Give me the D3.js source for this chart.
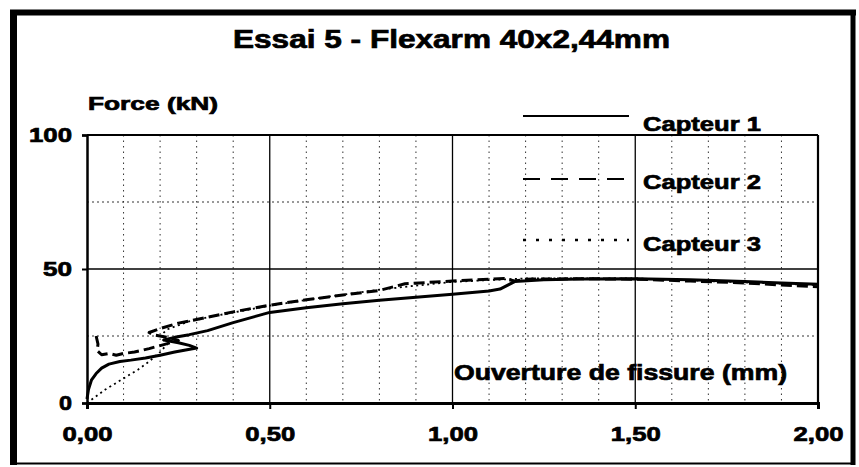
<!DOCTYPE html>
<html><head><meta charset="utf-8">
<script src="https://cdn.jsdelivr.net/npm/d3@7"></script>
<style>
body{margin:0;background:#fff}
svg{display:block}
text{font-family:"Liberation Sans",Arial,sans-serif;font-weight:bold;fill:#000;stroke:#000;stroke-width:0.7px}
</style>
</head><body>
<svg id="c" width="859" height="467"></svg>
<script>
const chartTitle = "Essai 5 - Flexarm 40x2,44mm";
const yTitle = "Force (kN)";
const xTitle = "Ouverture de fissure (mm)";
const seriesNames = ["Capteur 1", "Capteur 2", "Capteur 3"];
const xTicks = [0, 0.5, 1, 1.5, 2];
const xTickLabels = ["0,00", "0,50", "1,00", "1,50", "2,00"];
const yTicks = [0, 50, 100];
const yTickLabels = ["0", "50", "100"];
const xMinorGrid = [0.1,0.2,0.3,0.4,0.6,0.7,0.8,0.9,1.1,1.2,1.3,1.4,1.6,1.7,1.8,1.9];
const yMinorGrid = [25, 75];

const capteur1 = [[0,1.5],[0.004,5],[0.012,8.5],[0.025,11],[0.04,13],[0.06,14.5],[0.09,15.5],[0.12,16],[0.16,16.8],[0.2,17.8],[0.24,19],[0.27,19.8],[0.3,20.5],[0.28,21.5],[0.25,22.5],[0.21,23.5],[0.24,24.5],[0.28,25.5],[0.33,27],[0.4,30],[0.5,33.8],[0.6,35.5],[0.7,37],[0.8,38.3],[0.9,39.5],[1.0,40.6],[1.1,41.8],[1.13,42.5],[1.17,45.3],[1.25,46],[1.35,46.3],[1.5,46.4],[1.65,46],[1.8,45.3],[1.9,44.8],[2.0,44.3]];
const capteur2 = [[0.025,25],[0.03,22],[0.028,19.5],[0.04,18],[0.06,18.5],[0.08,17.8],[0.1,18.5],[0.13,19],[0.17,20.3],[0.21,21.8],[0.25,23.3],[0.22,24.5],[0.18,25.5],[0.17,26.3],[0.2,27.8],[0.25,29.8],[0.33,32],[0.4,34],[0.5,36.5],[0.6,38.5],[0.7,40.3],[0.8,42],[0.87,44.5],[1.0,45.5],[1.14,46.5],[1.17,45.5],[1.2,46.2],[1.35,46.4],[1.5,46.2],[1.65,45.5],[1.8,44.8],[1.9,44],[2.0,43.4]];
const capteur3 = [[0,0],[0.02,2],[0.05,5],[0.08,7.5],[0.11,10],[0.14,12.5],[0.17,15.5],[0.2,19],[0.22,22],[0.2,25],[0.22,27.5],[0.28,30.5],[0.35,32.5],[0.5,36.3],[0.65,39.5],[0.8,42.3],[0.88,43.5],[1.0,45.2],[1.2,46.5],[1.5,46.5],[1.8,45],[2.0,44]];

const series = [capteur1, capteur2, capteur3];
const styles = [
  {w: 3, dash: null},
  {w: 3, dash: "11,5"},
  {w: 1.8, dash: "2,3.5"}
];

const svg = d3.select("#c");
const x = d3.scaleLinear().domain([0, 2]).range([87, 818]);
const y = d3.scaleLinear().domain([0, 100]).range([403, 135]);

function stretch(sel, len) {
  sel.attr("textLength", len).attr("lengthAdjust", "spacingAndGlyphs");
}

// outer frame
svg.append("rect").attr("x", 13.5).attr("y", 12.5).attr("width", 839).attr("height", 451)
  .attr("fill", "none").attr("stroke", "#000").attr("stroke-width", 2);
svg.append("line").attr("x1", 13.5).attr("x2", 13.5).attr("y1", 10).attr("y2", 465).attr("stroke", "#000").attr("stroke-width", 7);
svg.append("line").attr("x1", 10).attr("x2", 856).attr("y1", 12.5).attr("y2", 12.5).attr("stroke", "#000").attr("stroke-width", 6);
svg.append("line").attr("x1", 853).attr("x2", 853).attr("y1", 10).attr("y2", 465).attr("stroke", "#000").attr("stroke-width", 5);

// grid
const g = svg.append("g");
g.selectAll(".vminor").data(xMinorGrid).join("line")
  .attr("x1", d => x(d)).attr("x2", d => x(d)).attr("y1", y(100)).attr("y2", y(0))
  .attr("stroke", "#333").attr("stroke-width", 1).attr("stroke-dasharray", "1.5,4");
g.selectAll(".hminor").data(yMinorGrid).join("line")
  .attr("x1", x(0)).attr("x2", x(2)).attr("y1", d => y(d)).attr("y2", d => y(d))
  .attr("stroke", "#333").attr("stroke-width", 1).attr("stroke-dasharray", "2,3");
g.selectAll(".vmajor").data(xTicks.slice(1, -1)).join("line")
  .attr("x1", d => x(d)).attr("x2", d => x(d)).attr("y1", y(100)).attr("y2", y(0))
  .attr("stroke", "#000").attr("stroke-width", 1.3);
g.selectAll(".hmajor").data([50]).join("line")
  .attr("x1", x(0)).attr("x2", x(2)).attr("y1", d => y(d)).attr("y2", d => y(d))
  .attr("stroke", "#000").attr("stroke-width", 1.3);

// plot frame top/right
svg.append("line").attr("x1", x(0)).attr("x2", x(2)).attr("y1", y(100)).attr("y2", y(100)).attr("stroke", "#000").attr("stroke-width", 1.8);
svg.append("line").attr("x1", x(2)).attr("x2", x(2)).attr("y1", y(100)).attr("y2", y(0)).attr("stroke", "#000").attr("stroke-width", 2.2);

// series
const line = d3.line().x(d => x(d[0])).y(d => y(d[1]));
series.forEach((s, i) => {
  svg.append("path").datum(s).attr("d", line).attr("fill", "none")
    .attr("stroke", "#000").attr("stroke-width", styles[i].w)
    .attr("stroke-linejoin", "round")
    .attr("stroke-dasharray", styles[i].dash);
});

// axes
const xAxis = d3.axisBottom(x).tickValues(xTicks).tickSize(6).tickPadding(18)
  .tickFormat((d, i) => xTickLabels[i]);
const xa = svg.append("g").attr("transform", `translate(0,${y(0)})`).call(xAxis);
xa.select(".domain").attr("stroke-width", 3);
xa.selectAll(".tick line").attr("stroke-width", 2);
xa.selectAll(".tick text").attr("font-size", 20).attr("font-family", "Liberation Sans, Arial, sans-serif")
  .attr("font-weight", "bold").attr("dy", "0.71em").each(function () { stretch(d3.select(this), 50); });

const yAxis = d3.axisLeft(y).tickValues(yTicks).tickSize(5).tickPadding(10)
  .tickFormat((d, i) => yTickLabels[i]);
const ya = svg.append("g").attr("transform", `translate(${x(0)},0)`).call(yAxis);
ya.select(".domain").attr("stroke-width", 2.5);
ya.selectAll(".tick line").attr("stroke-width", 2);
ya.selectAll(".tick text").attr("font-size", 20).attr("font-family", "Liberation Sans, Arial, sans-serif")
  .attr("font-weight", "bold").each(function (d, i) { stretch(d3.select(this), [13, 29, 43][i]); });

// titles
stretch(svg.append("text").attr("x", 233).attr("y", 48).attr("font-size", 25).text(chartTitle), 437);
stretch(svg.append("text").attr("x", 88).attr("y", 110).attr("font-size", 19).text(yTitle), 130);
stretch(svg.append("text").attr("x", 454).attr("y", 380).attr("font-size", 22).text(xTitle), 333);

// legend
const legY = [116, 179, 240];
const legBase = [131, 189, 251];
seriesNames.forEach((n, i) => {
  svg.append("line").attr("x1", 523).attr("x2", 629).attr("y1", legY[i]).attr("y2", legY[i])
    .attr("stroke", "#000").attr("stroke-width", i === 2 ? 2.5 : 2.2)
    .attr("stroke-dasharray", i === 0 ? null : (i === 1 ? "17,11" : "3,10"));
  stretch(svg.append("text").attr("x", 643).attr("y", legBase[i]).attr("font-size", 21).text(n), 118);
});
</script>
</body></html>
